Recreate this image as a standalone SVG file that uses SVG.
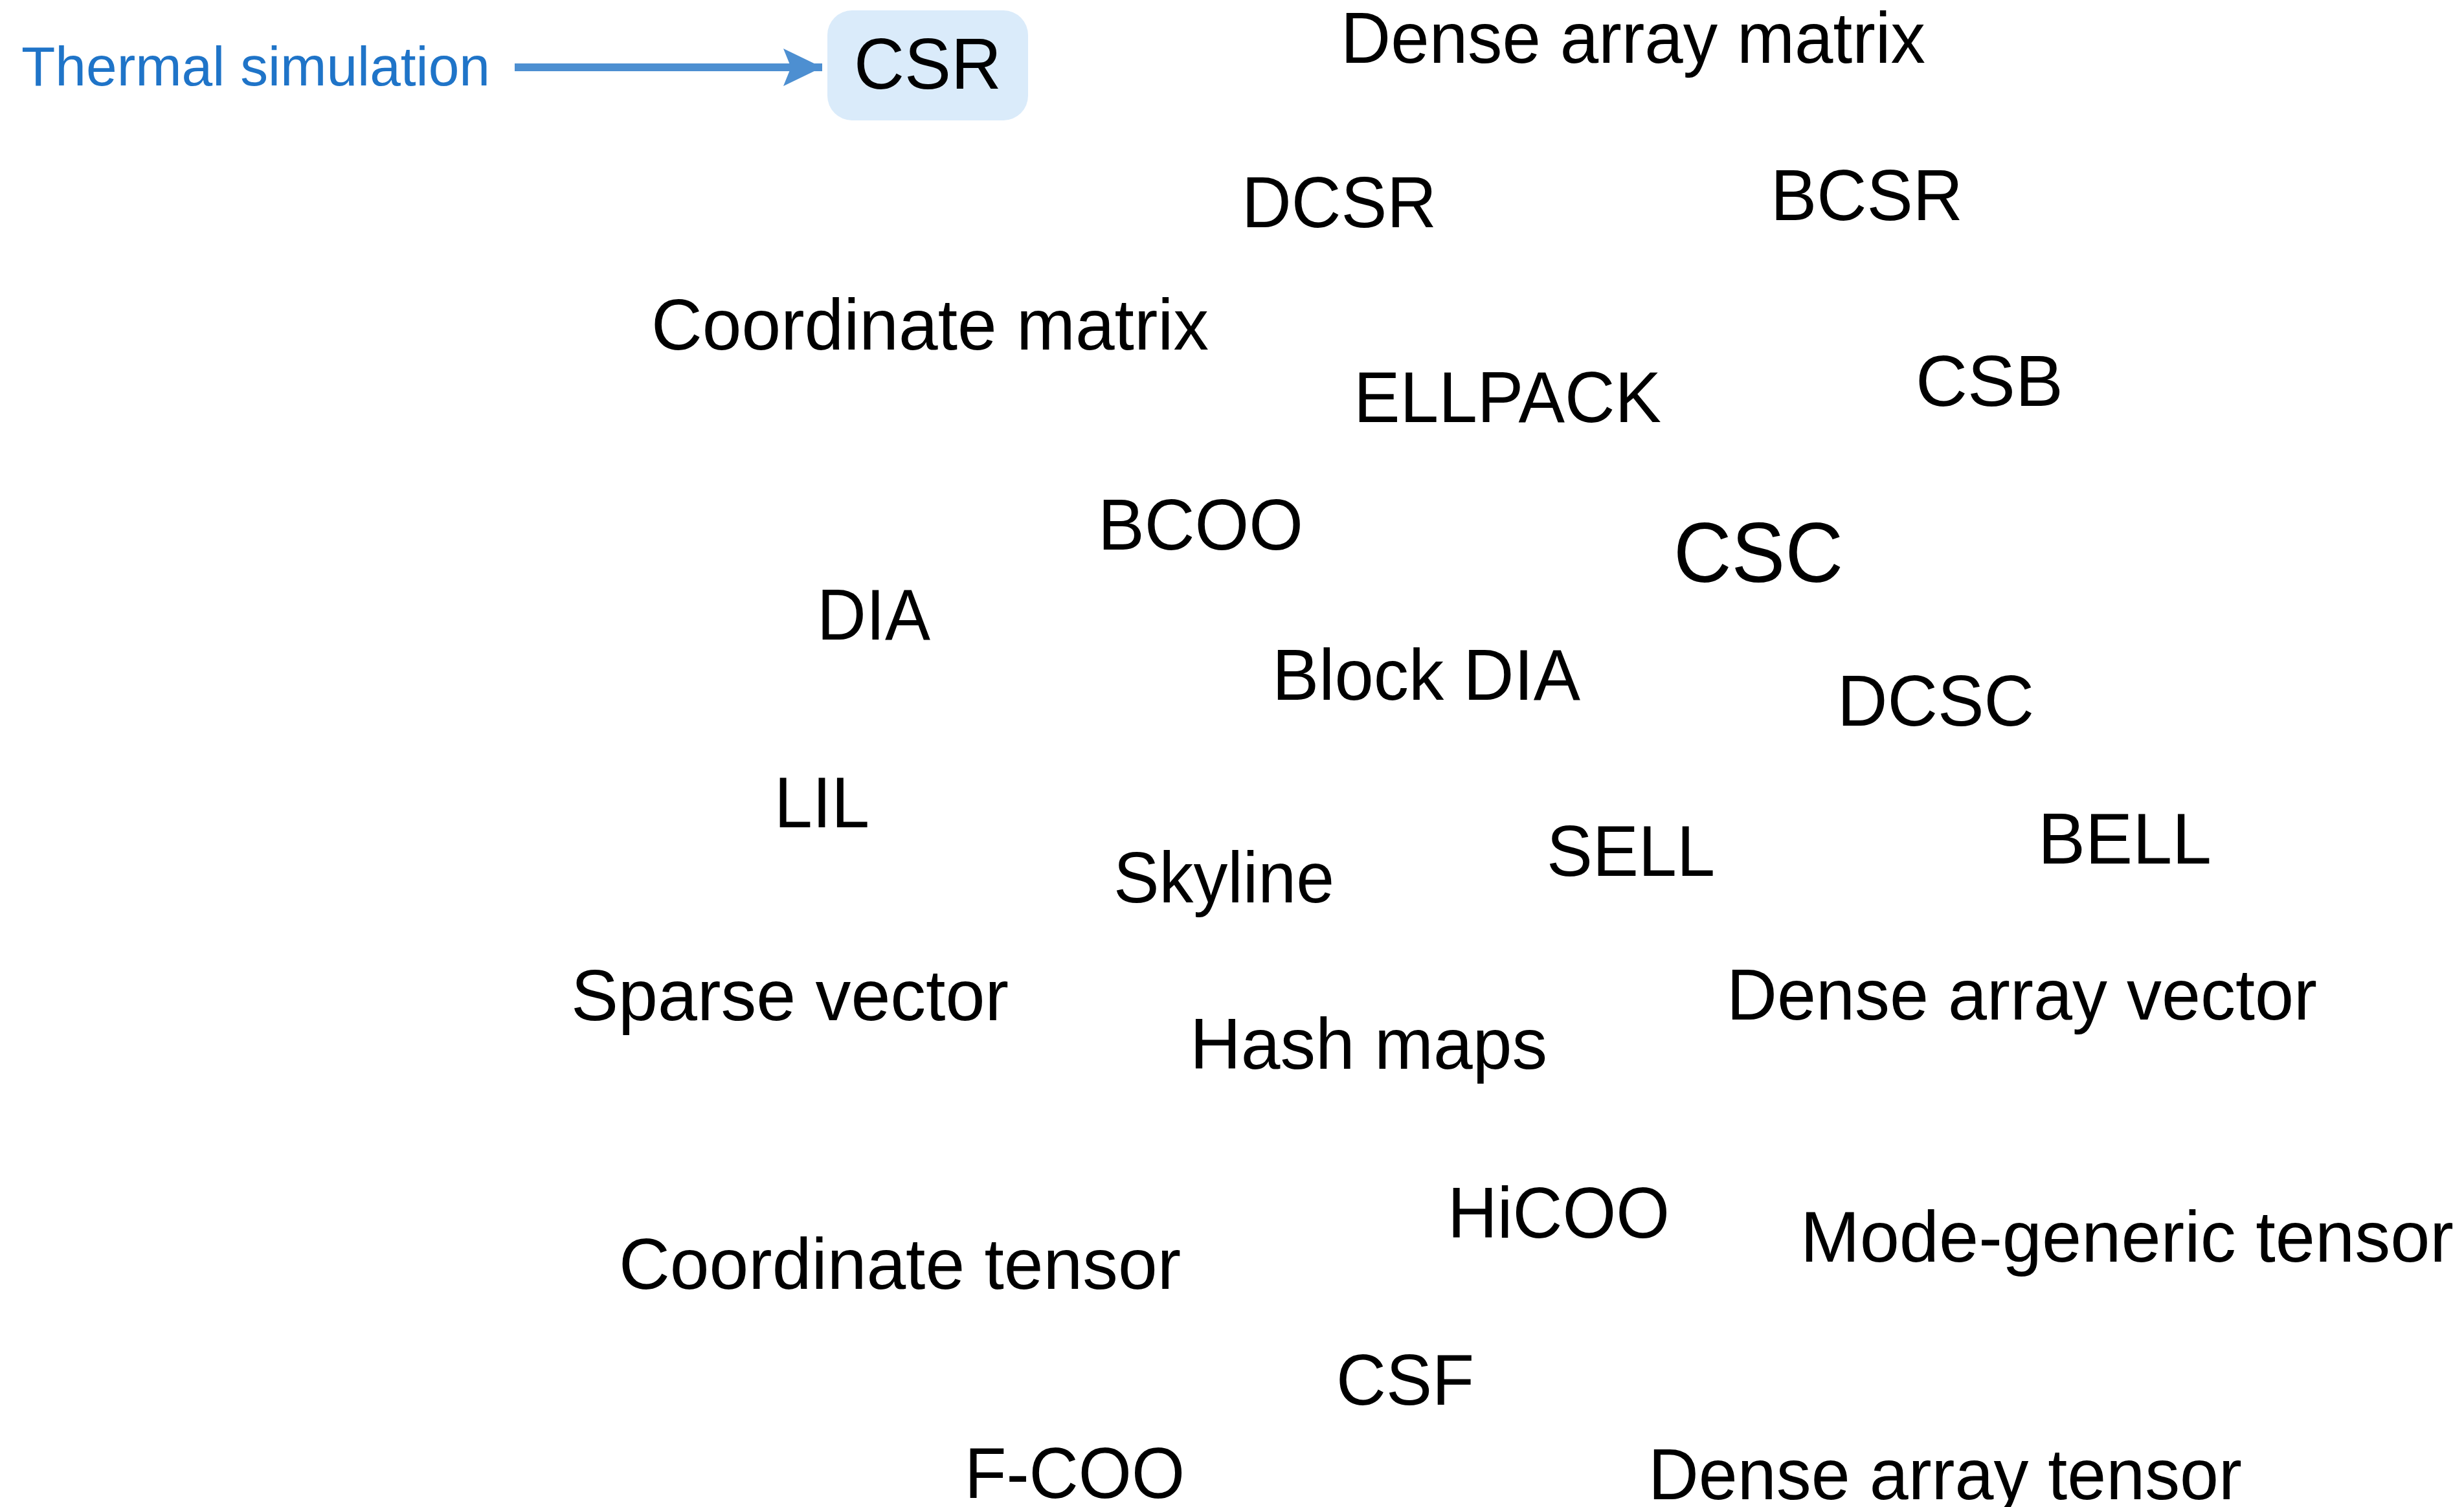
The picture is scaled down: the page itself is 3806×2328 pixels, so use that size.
<svg xmlns="http://www.w3.org/2000/svg" width="3806" height="2328" viewBox="0 0 3806 2328">
<style>
text{font-family:"Liberation Sans",Arial,Helvetica,sans-serif;fill:#000;font-size:112px}
.lbl{fill:#1f74c8;font-size:85px}
.big{font-size:131px}
</style>
<defs>
<marker id="ah" markerUnits="userSpaceOnUse" markerWidth="60" markerHeight="60" viewBox="0 0 56 54" refX="56" refY="27" orient="auto">
<path d="M0,0 L56,27 L0,54 L11,27 Z" fill="#4d8fd1"/>
</marker>
</defs>
<rect width="3806" height="2328" fill="#fff"/>
<g id="connectors">
<line x1="795" y1="104" x2="1270" y2="104" stroke="#4d8fd1" stroke-width="12" marker-end="url(#ah)"/>
</g>
<g id="thermal"><text class="lbl" x="33" y="132" textLength="724" lengthAdjust="spacingAndGlyphs">Thermal simulation</text></g>
<g id="csr"><rect x="1278" y="16" width="310" height="170" rx="38" fill="#daebfa"/><text x="1319" y="137" textLength="228" lengthAdjust="spacingAndGlyphs">CSR</text></g>
<g id="dense-matrix"><text x="2071" y="97" textLength="903" lengthAdjust="spacingAndGlyphs">Dense array matrix</text></g>
<g id="dcsr"><text x="1918" y="351" textLength="301" lengthAdjust="spacingAndGlyphs">DCSR</text></g>
<g id="bcsr"><text x="2735" y="340" textLength="297" lengthAdjust="spacingAndGlyphs">BCSR</text></g>
<g id="coo-matrix"><text x="1006" y="540" textLength="861" lengthAdjust="spacingAndGlyphs">Coordinate matrix</text></g>
<g id="ellpack"><text x="2091" y="652" textLength="475" lengthAdjust="spacingAndGlyphs">ELLPACK</text></g>
<g id="csb"><text x="2959" y="627" textLength="228" lengthAdjust="spacingAndGlyphs">CSB</text></g>
<g id="bcoo"><text x="1696" y="849" textLength="317" lengthAdjust="spacingAndGlyphs">BCOO</text></g>
<g id="csc"><text class="big" x="2585" y="899" textLength="262" lengthAdjust="spacingAndGlyphs">CSC</text></g>
<g id="dia"><text x="1262" y="988" textLength="175" lengthAdjust="spacingAndGlyphs">DIA</text></g>
<g id="block-dia"><text x="1965" y="1081" textLength="476" lengthAdjust="spacingAndGlyphs">Block DIA</text></g>
<g id="dcsc"><text x="2838" y="1121" textLength="304" lengthAdjust="spacingAndGlyphs">DCSC</text></g>
<g id="lil"><text x="1196" y="1278" textLength="147" lengthAdjust="spacingAndGlyphs">LIL</text></g>
<g id="skyline"><text x="1720" y="1394" textLength="341" lengthAdjust="spacingAndGlyphs">Skyline</text></g>
<g id="sell"><text x="2389" y="1353" textLength="260" lengthAdjust="spacingAndGlyphs">SELL</text></g>
<g id="bell"><text x="3148" y="1334" textLength="268" lengthAdjust="spacingAndGlyphs">BELL</text></g>
<g id="sparse-vector"><text x="882" y="1576" textLength="676" lengthAdjust="spacingAndGlyphs">Sparse vector</text></g>
<g id="hash-maps"><text x="1838" y="1651" textLength="552" lengthAdjust="spacingAndGlyphs">Hash maps</text></g>
<g id="dense-vector"><text x="2667" y="1575" textLength="912" lengthAdjust="spacingAndGlyphs">Dense array vector</text></g>
<g id="hicoo"><text x="2236" y="1912" textLength="343" lengthAdjust="spacingAndGlyphs">HiCOO</text></g>
<g id="mode-generic"><text x="2781" y="1949" textLength="1009" lengthAdjust="spacingAndGlyphs">Mode-generic tensor</text></g>
<g id="coo-tensor"><text x="956" y="1991" textLength="868" lengthAdjust="spacingAndGlyphs">Coordinate tensor</text></g>
<g id="csf"><text x="2064" y="2170" textLength="213" lengthAdjust="spacingAndGlyphs">CSF</text></g>
<g id="f-coo"><text x="1490" y="2314" textLength="340" lengthAdjust="spacingAndGlyphs">F-COO</text></g>
<g id="dense-tensor"><text x="2546" y="2316" textLength="917" lengthAdjust="spacingAndGlyphs">Dense array tensor</text></g>
</svg>
